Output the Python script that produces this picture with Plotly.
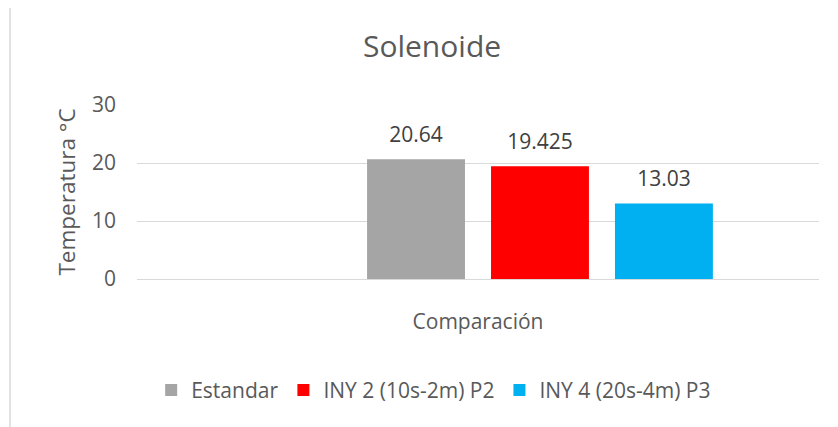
import plotly.graph_objects as go

# ---- data ----
categories = ["Comparación"]
series_names = ["", "Estandar", "INY 2 (10s-2m) P2", "INY 4 (20s-4m) P3"]
series_values = [[None], [20.64], [19.425], [13.03]]
series_colors = ["rgba(0,0,0,0)", "#A5A5A5", "#FF0000", "#00B0F0"]
y_ticks = [0, 10, 20, 30]

FONT = "Open Sans"
TXT = "#595959"

fig = go.Figure()
for i, (name, vals, col) in enumerate(zip(series_names, series_values, series_colors)):
    fig.add_trace(go.Bar(
        x=categories, y=vals, name=name, marker_color=col,
        marker_line_width=0, showlegend=bool(name), hoverinfo="skip" if not name else None,
        offsetgroup=str(i), alignmentgroup="a",
    ))
# data labels as grouped scatter text, aligned with bars
for i, (name, vals) in enumerate(zip(series_names, series_values)):
    fig.add_trace(go.Scatter(
        x=categories, y=vals, mode="markers+text",
        text=[("" if v is None else f"{v:g}") for v in vals],
        textposition="top center",
        textfont=dict(family=FONT, size=21, color="#404040"),
        marker=dict(size=18, opacity=0),
        showlegend=False, hoverinfo="skip",
        offsetgroup=str(i), alignmentgroup="a", cliponaxis=False,
    ))

fig.update_layout(
    width=838, height=427,
    margin=dict(l=129, r=27, t=97, b=156, autoexpand=False),
    paper_bgcolor="white", plot_bgcolor="white",
    font=dict(family=FONT, size=21, color=TXT),
    barmode="group", bargap=0.273, bargroupgap=0.21,
    scattermode="group", scattergap=0.273,
    title=dict(text="Solenoide", font=dict(family=FONT, size=30, color=TXT),
               x=0.4326, xref="paper", xanchor="center",
               y=(427 - 38) / 427, yref="container", yanchor="middle"),
    legend=dict(orientation="h", x=0.435, xanchor="center", y=-0.64, yanchor="middle",
                font=dict(family=FONT, size=21, color=TXT), bgcolor="rgba(0,0,0,0)"),
    xaxis=dict(type="category", showgrid=False, showline=False, zeroline=False,
               ticks="", ticklabelstandoff=28, automargin=False,
               tickfont=dict(family=FONT, size=21, color=TXT)),
    yaxis=dict(range=[0, 30], tickvals=y_ticks, showgrid=True, gridcolor="#D9D9D9",
               gridwidth=1, zeroline=True, zerolinecolor="#D9D9D9", zerolinewidth=1,
               showline=False, ticks="", ticklabelstandoff=20, automargin=False,
               tickfont=dict(family=FONT, size=21, color=TXT),
               title=dict(text="Temperatura °C", standoff=10,
                          font=dict(family=FONT, size=22.5, color=TXT))),
    shapes=[dict(type="rect", xref="paper", yref="paper",
                 x0=-0.1862, x1=2, y0=-2, y1=1.5747,
                 line=dict(color="#D9D9D9", width=1.5), fillcolor="rgba(0,0,0,0)",
                 layer="below")],
)

fig.write_html("out.html")
